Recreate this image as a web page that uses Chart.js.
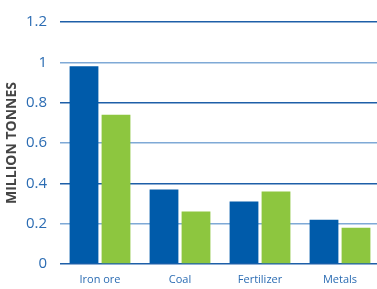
<!DOCTYPE html>
<html>
<head>
<meta charset="utf-8">
<script src="https://cdn.jsdelivr.net/npm/chart.js@4/dist/chart.umd.min.js"></script>
<style>
  html, body { margin: 0; padding: 0; background: #fff; overflow: hidden; }
  #wrap { width: 380px; height: 289px; }
</style>
</head>
<body>
<div id="wrap"><canvas id="cargoChart"></canvas></div>
<script>
// values (million tonnes)
var categories = ["Iron ore", "Coal", "Fertilizer", "Metals"];
var seriesBlue = [0.98, 0.37, 0.31, 0.22];
var seriesGreen = [0.74, 0.26, 0.36, 0.18];
var yTicks = [0, 0.2, 0.4, 0.6, 0.8, 1, 1.2];

var ctx = document.getElementById("cargoChart").getContext("2d");
var cargoChart = new Chart(ctx, {
  type: "bar",
  data: {
    labels: categories,
    datasets: [
      {
        data: seriesBlue,
        backgroundColor: "#005BAA",
        barPercentage: 0.9,
        categoryPercentage: 0.8
      },
      {
        data: seriesGreen,
        backgroundColor: "#8DC63F",
        barPercentage: 0.9,
        categoryPercentage: 0.8
      }
    ]
  },
  options: {
    responsive: true,
    maintainAspectRatio: false,
    animation: false,
    layout: { padding: { top: 6, right: 0, left: 0, bottom: 0 } },
    plugins: {
      legend: { display: false },
      tooltip: { enabled: false }
    },
    scales: {
      x: {
        grid: { display: false, drawTicks: false },
        border: { display: false },
        ticks: {
          color: "#2B6CB3",
          font: { family: "Open Sans", size: 11 },
          padding: 9
        },
        afterFit: function (scale) {
          scale.height = 25;
        }
      },
      y: {
        min: 0,
        max: 1.2,
        afterBuildTicks: function (scale) {
          scale.ticks = yTicks.map(function (v) { return { value: v }; });
        },
        border: { display: false },
        grid: {
          drawTicks: false,
          lineWidth: 1.6,
          color: function (c) {
            return c.index % 2 === 0 ? "#1E5FA8" : "#7FA9D6";
          }
        },
        ticks: {
          color: "#2B6CB3",
          font: { family: "Open Sans", size: 15 },
          padding: 13,
          callback: function (v) { return String(v); }
        },
        title: {
          display: true,
          text: "MILLION TONNES",
          color: "#444444",
          font: { family: "Open Sans", size: 14, weight: "bold" },
          padding: { top: 4, bottom: 0 }
        },
        afterFit: function (scale) {
          scale.width = 60;
        }
      }
    }
  }
});
</script>
</body>
</html>
